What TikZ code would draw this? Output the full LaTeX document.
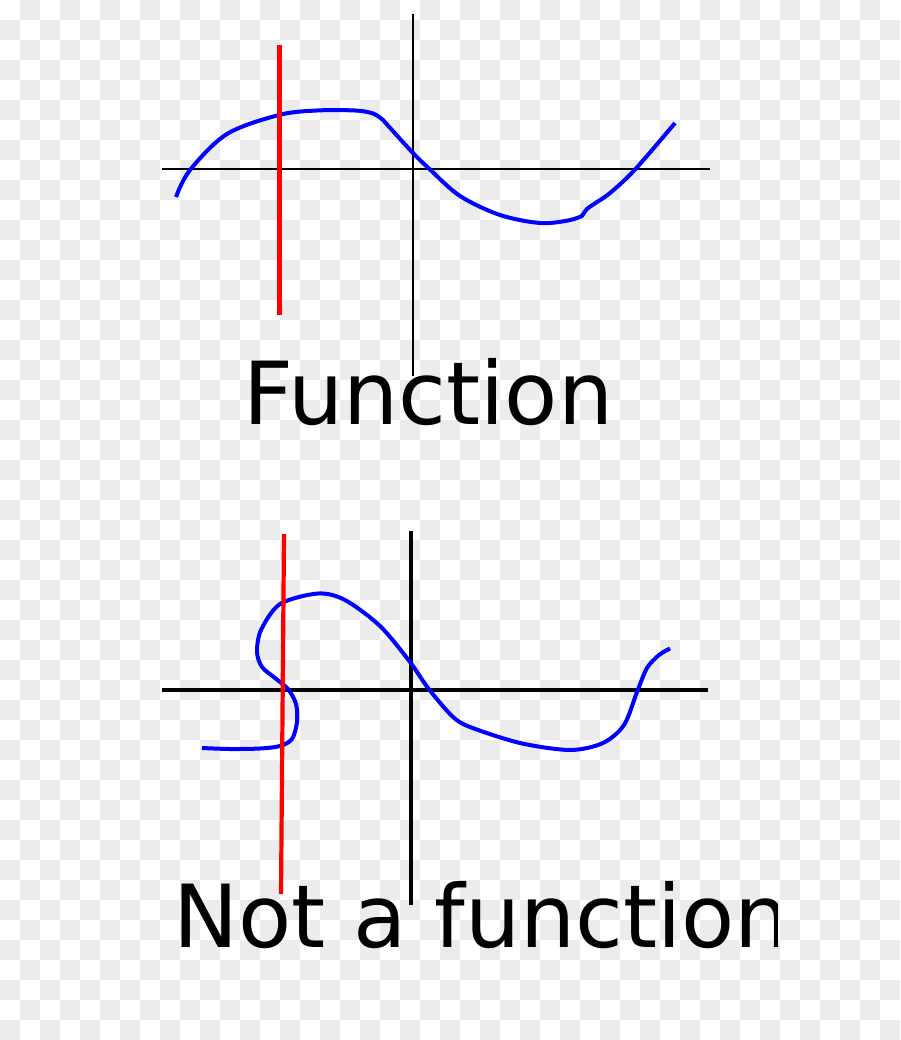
\documentclass[tikz,border=0pt]{standalone}
\usepackage{fontspec}
\setmainfont{DejaVu Sans}
\definecolor{checker}{RGB}{236,236,236}
\definecolor{curveblue}{RGB}{0,0,255}
\definecolor{vertred}{RGB}{255,0,0}
\tikzset{
  axisthin/.style={draw=black,line width=2pt},
  axisthick/.style={draw=black,line width=4pt},
  vline/.style={draw=vertred,line width=4.2pt},
  graph/.style={draw=curveblue,line width=4pt,line join=round,line cap=butt},
  label/.style={anchor=base west,inner sep=0pt,outer sep=0pt,font=\fontsize{87}{100}\selectfont,text=black}
}
\begin{document}
\begin{tikzpicture}[x=1pt,y=-1pt]
\useasboundingbox (0,0) rectangle (900,1040);
\fill[white] (0,0) rectangle (900,1040);
% checkerboard background
\foreach \rr in {0,...,51}{
  \foreach \cc in {0,...,44}{
    \ifodd\numexpr\rr+\cc\relax
      \fill[checker] (20*\cc,20*\rr) rectangle (20*\cc+20,20*\rr+20);
    \fi
  }
}
% ---------- top: function ----------
\draw[axisthin] (162,169.5) -- (710,169.5);
\draw[axisthin] (412.5,14) -- (412.5,376);
\draw[graph] plot[smooth,tension=0.55] coordinates {(176,197) (190,170) (227,134) (279,115) (317,110.5) (355,110.5) (373,113.5) (383,120)}
  -- plot[smooth,tension=0.55] coordinates {(383,120) (412,152) (430,169.5) (460,196) (500,215) (540,223) (568,220.5) (582,216)}
  -- plot[smooth,tension=0.55] coordinates {(582,216) (587,209) (594,204) (610,193) (635,169.5) (675,123)};
\draw[vline] (279.5,45) -- (279.5,315);
\node[label] (ftext) at (243,424) {Function};
% ---------- bottom: not a function ----------
\draw[axisthick] (162,689.5) -- (708,689.5);
\draw[axisthick] (410.5,531) -- (410.5,905);
\draw[graph] plot[smooth,tension=0.5] coordinates {(202,748) (230,749) (260,748.5) (280,746) (292,739) (297,722) (296,704) (288,689) (275,678) (262,667) (257,652) (261,630) (280,604) (318,593.5) (345,600) (380,626) (410,662) (428,688) (452,716) (470,727) (520,743) (570,750) (603,743) (624,725) (637,692) (647,668) (659,655) (670,648.5)};
\draw[vline] (284,534) -- (281,894);
\begin{scope}
  \clip (0,840) rectangle (777,1000);
  \node[label] (ntext) at (173.5,947) {Not a function};
\end{scope}
\end{tikzpicture}
\end{document}
